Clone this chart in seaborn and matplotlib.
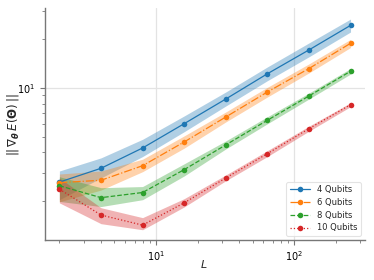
import numpy as np
import pandas as pd
import seaborn as sns
import matplotlib
matplotlib.use("Agg")
import matplotlib.pyplot as plt

L = [2, 4, 8, 16, 32, 64, 128, 256]
series = ["4 Qubits", "6 Qubits", "8 Qubits", "10 Qubits"]

mean_4 = [2.62, 3.19, 4.26, 6.02, 8.55, 12.25, 17.2, 24.4]
low_4 = [2.04, 2.78, 3.77, 5.37, 7.74, 11.1, 15.6, 22.2]
high_4 = [3.07, 3.70, 4.82, 6.72, 9.45, 13.5, 19.0, 26.7]

mean_6 = [2.60, 2.69, 3.31, 4.64, 6.62, 9.45, 13.2, 18.9]
low_6 = [1.98, 2.34, 3.04, 4.25, 6.17, 8.80, 12.4, 17.8]
high_6 = [2.94, 3.07, 3.63, 5.06, 7.11, 10.1, 14.1, 20.0]

mean_8 = [2.49, 2.10, 2.26, 3.13, 4.45, 6.32, 8.93, 12.7]
low_8 = [1.99, 1.85, 2.04, 2.86, 4.20, 6.01, 8.55, 12.2]
high_8 = [2.83, 2.42, 2.46, 3.40, 4.71, 6.64, 9.31, 13.2]

mean_10 = [2.37, 1.64, 1.42, 1.95, 2.78, 3.93, 5.61, 7.89]
low_10 = [1.95, 1.45, 1.33, 1.84, 2.67, 3.77, 5.41, 7.67]
high_10 = [2.78, 1.82, 1.58, 2.07, 2.90, 4.10, 5.81, 8.11]

means = [mean_4, mean_6, mean_8, mean_10]
lows = [low_4, low_6, low_8, low_10]
highs = [high_4, high_6, high_8, high_10]
styles = ["-", "-.", "--", ":"]

sns.set_style("ticks")
plt.rcParams["font.family"] = ["DejaVu Sans"]
plt.rcParams["mathtext.fontset"] = "dejavusans"

fig = plt.figure(figsize=(3.74, 2.80), dpi=100)
ax = fig.add_axes([0.120, 0.143, 0.856, 0.828])
colors = sns.color_palette("tab10", 4)

for name, m, lo, hi, c, ls in zip(series, means, lows, highs, colors, styles):
    df = pd.DataFrame({"L": L, "val": m})
    sns.lineplot(data=df, x="L", y="val", ax=ax, color=c, linestyle=ls,
                 marker="o", markersize=4, markeredgewidth=0, linewidth=0.9,
                 label=name)
    ax.fill_between(L, lo, hi, color=c, alpha=0.35, linewidth=0)

ax.set_xscale("log")
ax.set_yscale("log")
ax.set_xlim(1.57, 326)
ax.set_ylim(1.15, 31.2)
ax.yaxis.set_minor_formatter(matplotlib.ticker.NullFormatter())
ax.xaxis.set_minor_formatter(matplotlib.ticker.NullFormatter())
ax.grid(which="major", color="#e3e3e3", linewidth=0.9)
ax.set_axisbelow(True)
sns.despine(ax=ax)
for s in ["left", "bottom"]:
    ax.spines[s].set_color("#777777")
    ax.spines[s].set_linewidth(1.0)
ax.tick_params(which="both", colors="#777777", labelcolor="black", labelsize=7)
ax.tick_params(which="major", length=3.5)
ax.tick_params(which="minor", length=2)

ax.set_xlabel(r"$L$", fontsize=8)
ax.set_ylabel(r"$||\,\nabla_{\boldsymbol{\theta}}\, E(\boldsymbol{\Theta})\,||$", fontsize=8.5)
ax.yaxis.set_label_coords(-0.075, 0.496)
ax.xaxis.set_label_coords(0.497, -0.078)

leg = ax.legend(loc="lower right", fontsize=6, frameon=True, handlelength=2.5,
                borderpad=0.4, labelspacing=0.45, fancybox=True)
leg.get_frame().set_edgecolor("#dddddd")
leg.get_frame().set_linewidth(0.8)

fig.savefig("out.png", dpi=100)
